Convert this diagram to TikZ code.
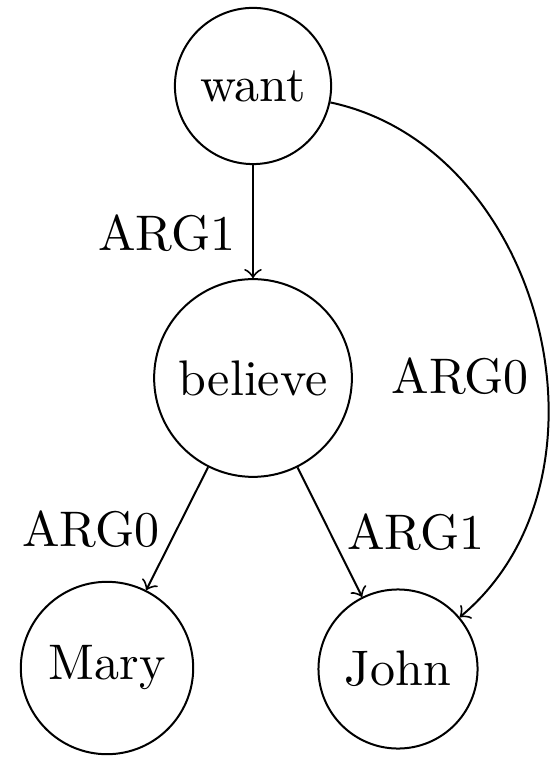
\documentclass[tikz,border=0pt]{standalone}
\usetikzlibrary{calc}
\begin{document}
\begin{tikzpicture}[>=to,word/.style={draw,circle,inner sep=3.6pt}]
\def\u{10pt}
\useasboundingbox (0,0) rectangle (11.1*\u,-15.14*\u);
\node[word] (want) at (5.06*\u,-1.72*\u) {want};
\node[word] (believe) at (5.06*\u,-7.56*\u) {believe};
\node[word] (mary) at (2.14*\u,-13.36*\u) {Mary};
\node[word] (john) at (7.96*\u,-13.38*\u) {John};

\draw[->] (want) -- node[pos=0.6,left] {ARG1} (believe);
\draw[->] (believe) -- node[left] {ARG0} (mary);
\draw[->] (believe) -- node[right] {ARG1} (john);
\draw[->] (want) to[out=-12,in=40,looseness=1.05] node[pos=0.58,left] {ARG0} (john);
\end{tikzpicture}
\end{document}
